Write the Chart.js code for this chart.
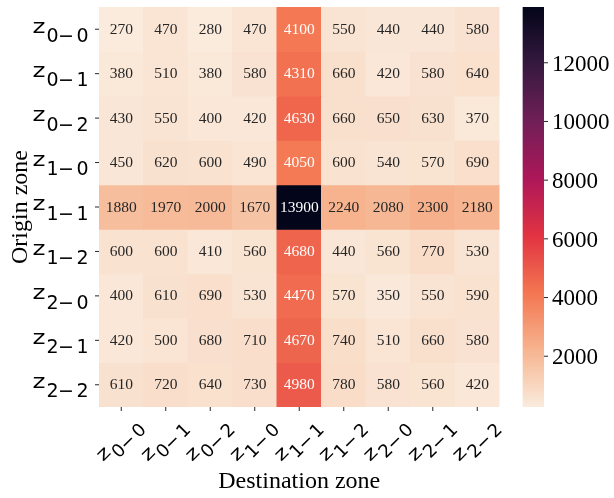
<!DOCTYPE html>
<html>
<head>
<meta charset="utf-8">
<script src="https://cdn.jsdelivr.net/npm/chart.js@4/dist/chart.umd.min.js"></script>
<style>
  html, body { margin: 0; padding: 0; background: #fff; }
  #wrap { width: 614px; height: 498px; position: relative; }
</style>
</head>
<body>
<div id="wrap"><canvas id="heat"></canvas></div>
<script>
// zone ids, used for both axes
const zones = ['0-0', '0-1', '0-2', '1-0', '1-1', '1-2', '2-0', '2-1', '2-2'];

// one array per origin zone (row), values per destination zone
const fromZ00 = [270, 470, 280, 470, 4100, 550, 440, 440, 580];
const fromZ01 = [380, 510, 380, 580, 4310, 660, 420, 580, 640];
const fromZ02 = [430, 550, 400, 420, 4630, 660, 650, 630, 370];
const fromZ10 = [450, 620, 600, 490, 4050, 600, 540, 570, 690];
const fromZ11 = [1880, 1970, 2000, 1670, 13900, 2240, 2080, 2300, 2180];
const fromZ12 = [600, 600, 410, 560, 4680, 440, 560, 770, 530];
const fromZ20 = [400, 610, 690, 530, 4470, 570, 350, 550, 590];
const fromZ21 = [420, 500, 680, 710, 4670, 740, 510, 660, 580];
const fromZ22 = [610, 720, 640, 730, 4980, 780, 580, 560, 420];
const flows = [fromZ00, fromZ01, fromZ02, fromZ10, fromZ11, fromZ12, fromZ20, fromZ21, fromZ22];

const cbTicks = [2000, 4000, 6000, 8000, 10000, 12000];
const vmin = 270, vmax = 13900;

/* ========== colormap (rocket, reversed) ========== */

const rocket = [
    [0, [3, 5, 26]], [1/7, [53, 25, 62]], [2/7, [112, 31, 87]], [3/7, [173, 23, 89]],
    [4/7, [225, 51, 66]], [5/7, [243, 118, 81]], [6/7, [246, 180, 143]], [1, [250, 235, 221]]
];

function rocketAt(t){
    t = Math.max(0, Math.min(1, t));
    for (let i = 1; i < rocket.length; i++) {
        if (t <= rocket[i][0]) {
            const [t0, c0] = rocket[i-1], [t1, c1] = rocket[i];
            const f = (t - t0) / (t1 - t0);
            return c0.map((c, k) => Math.round(c + (c1[k] - c) * f));
        }
    }
    return rocket[rocket.length-1][1];
}
function rgbFor(v){ return rocketAt(1 - (v - vmin) / (vmax - vmin)); }
function colorFor(v){ const c = rgbFor(v); return `rgb(${c[0]},${c[1]},${c[2]})`; }
function isDark(v){
    const lin = rgbFor(v).map(c => { c /= 255; return c <= 0.03928 ? c / 12.92 : Math.pow((c + 0.055) / 1.055, 2.4); });
    return 0.2126 * lin[0] + 0.7152 * lin[1] + 0.0722 * lin[2] < 0.408;
}

/* ========== zone label z_{a-b} ========== */

function drawZone(ctx, id, s){
    // label centred on (0,0) in its own frame
    const [a, b] = id.split('-');
    ctx.fillStyle = '#000';
    ctx.textAlign = 'center';
    ctx.textBaseline = 'alphabetic';
    ctx.save();
    ctx.translate(-21.6 * s, 0.3 * s);
    ctx.scale(1.3, 1);
    ctx.font = (19 * s) + 'px "DejaVu Sans"';
    ctx.fillText('z', 0, 0);
    ctx.restore();
    ctx.font = (19 * s) + 'px "DejaVu Sans"';
    ctx.fillText(a, -8 * s, 9.7 * s);
    ctx.fillText('\u2212', 5.4 * s, 9.7 * s);
    ctx.fillText(b, 22 * s, 9.7 * s);
}

const heatDecor = {
    id: 'heatDecor',
    afterDraw(chart){
        const { ctx, chartArea: a, scales: { x, y, cb } } = chart;
        ctx.save();

        // cell values
        ctx.font = '15.5px "Liberation Serif"';
        ctx.textAlign = 'center';
        ctx.textBaseline = 'alphabetic';
        flows.forEach((row, r) => {
            chart.getDatasetMeta(r).data.forEach((bar, c) => {
                ctx.fillStyle = isDark(row[c]) ? '#ffffff' : '#262626';
                ctx.fillText(String(row[c]), bar.x, (bar.y + bar.base) / 2 + 4.6);
            });
        });

        // tick marks
        ctx.strokeStyle = '#262626';
        ctx.lineWidth = 1;
        zones.forEach((z, i) => {
            const py = y.getPixelForValue(i + 0.5);
            ctx.beginPath(); ctx.moveTo(a.left - 4, py); ctx.lineTo(a.left, py); ctx.stroke();
            const px = x.getPixelForValue(i);
            ctx.beginPath(); ctx.moveTo(px, a.bottom); ctx.lineTo(px, a.bottom + 4); ctx.stroke();
        });

        // y tick labels
        zones.forEach((z, i) => {
            ctx.save();
            ctx.translate(a.left - 38.5, y.getPixelForValue(i + 0.5) + 3);
            drawZone(ctx, z, 1);
            ctx.restore();
        });

        // x tick labels, rotated 45
        zones.forEach((z, i) => {
            ctx.save();
            ctx.translate(x.getPixelForValue(i) + 0.5, a.bottom + 36);
            ctx.rotate(-Math.PI / 4);
            drawZone(ctx, z, 0.95);
            ctx.restore();
        });

        // axis titles
        ctx.fillStyle = '#000';
        ctx.font = '24px "Liberation Serif"';
        ctx.textAlign = 'center';
        ctx.fillText('Destination zone', (a.left + a.right) / 2, 488);
        ctx.save();
        ctx.translate(27, (a.top + a.bottom) / 2);
        ctx.rotate(-Math.PI / 2);
        ctx.fillText('Origin zone', 0, 0);
        ctx.restore();

        // colorbar
        const cbL = 522.7, cbW = 21.3;
        const top = cb.getPixelForValue(vmax), bot = cb.getPixelForValue(vmin);
        for (let py = top; py < bot; py += 1) {
            ctx.fillStyle = colorFor(cb.getValueForPixel(Math.min(py + 0.5, bot)));
            ctx.fillRect(cbL, py, cbW, Math.min(1.2, bot - py));
        }
        ctx.font = '23px "Liberation Serif"';
        ctx.textAlign = 'left';
        ctx.textBaseline = 'alphabetic';
        cbTicks.forEach(t => {
            const py = cb.getPixelForValue(t);
            ctx.beginPath(); ctx.moveTo(cbL + cbW, py); ctx.lineTo(cbL + cbW + 4, py); ctx.stroke();
            ctx.fillStyle = '#000';
            ctx.fillText(String(t), cbL + cbW + 8, py + 7.8);
        });

        ctx.restore();
    }
};

const datasets = flows.map((row, r) => ({
    label: 'z' + zones[r],
    data: row.map(() => [r, r + 1]),
    backgroundColor: row.map(colorFor),
    borderWidth: 0,
    inflateAmount: 0.5,
    barPercentage: 1,
    categoryPercentage: 1,
    grouped: false,
    yAxisID: 'y'
}));

new Chart(document.getElementById('heat').getContext('2d'), {
    type: 'bar',
    data: { labels: zones, datasets },
    options: {
        responsive: true,
        maintainAspectRatio: false,
        animation: false,
        events: [],
        layout: { padding: { left: 99, top: 7, right: 114.5, bottom: 91 } },
        plugins: { legend: { display: false }, tooltip: { enabled: false } },
        scales: {
            x: { display: false, offset: true },
            y: { display: false, min: 0, max: 9, reverse: true },
            cb: { type: 'linear', display: false, min: vmin, max: vmax, position: 'right' }
        }
    },
    plugins: [heatDecor]
});
</script>
</body>
</html>
